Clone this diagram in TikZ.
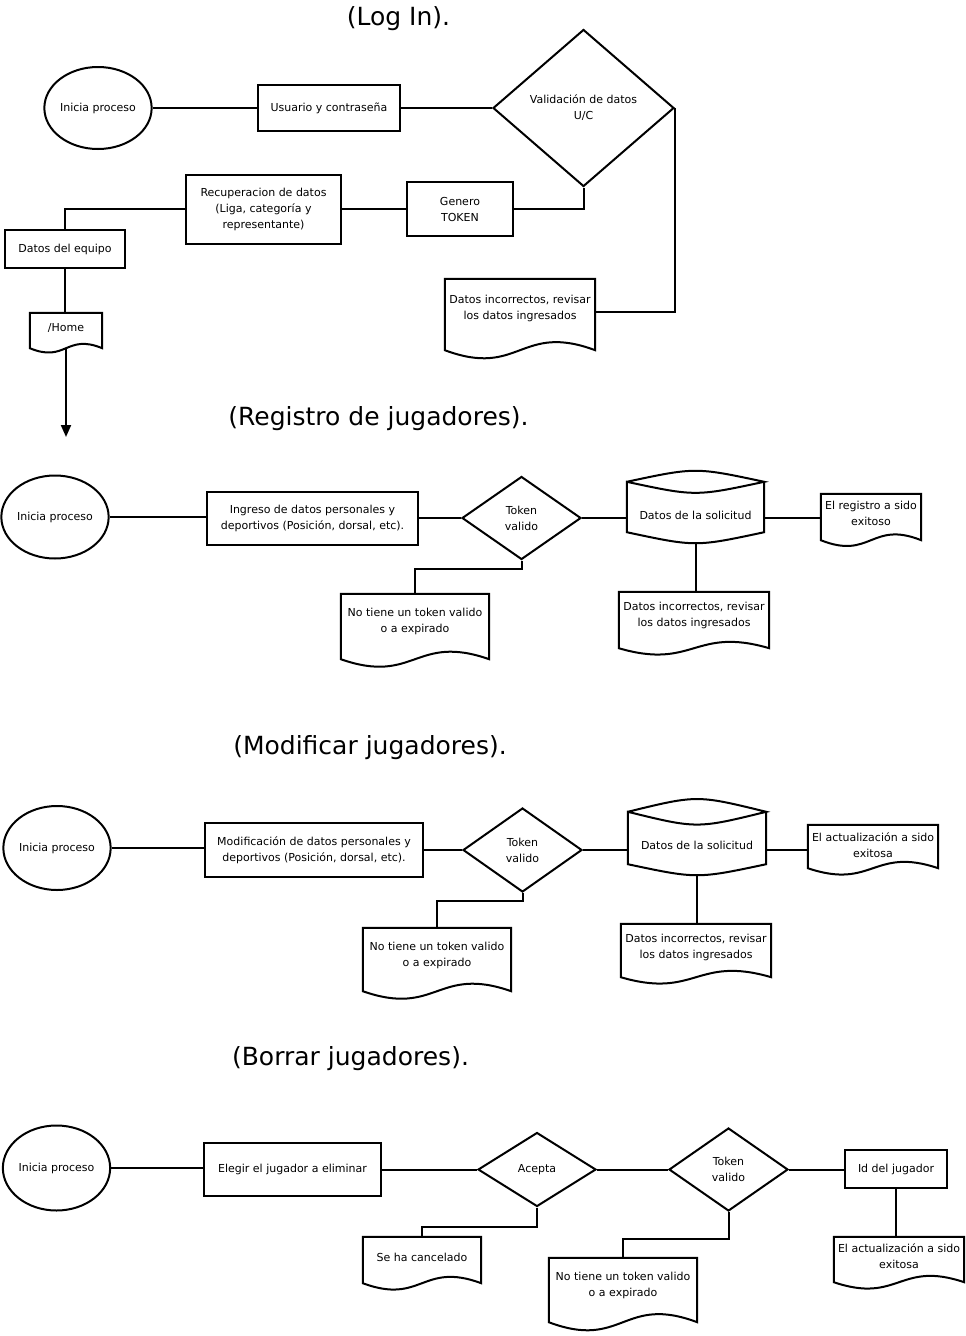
\documentclass[tikz,border=0pt]{standalone}
\usepackage{fontspec}
\setmainfont{DejaVu Sans}
\usetikzlibrary{shapes.geometric,calc,arrows.meta}
\tikzset{
  ln/.style={line width=2pt, line join=miter},
  every node/.style={font=\fontsize{11}{16}\selectfont, align=center, inner sep=0pt},
  ell/.style={ellipse, draw, ln},
  proc/.style={rectangle, draw, ln},
  dec/.style={diamond, draw, ln},
  docbox/.style={rectangle},
  cylbox/.style={rectangle},
  ttl/.style={font=\fontsize{25}{30}\selectfont}
}
% document outline: name, extra side length, wave control offset
\newcommand\docout[3]{%
  \draw[ln] (#1.north west) -- (#1.north east) -- ([yshift=-#2]#1.south east)
    .. controls ($(#1.south)+(0,#2)+(0,-#3)$) and ($(#1.south)+(0,#2)+(0,#3)$) .. ([yshift=-#2]#1.south west) -- cycle;}
% stored-data outline: name, bottom corners raised by, top arc control, bottom arc control
\newcommand\cylout[4]{%
  \draw[ln] (#1.north west) .. controls ($(#1.north)+(0,-#3)$) .. (#1.north east)
    .. controls ($(#1.north)+(0,#3)$) .. (#1.north west)
    -- ([yshift=#2]#1.south west) .. controls ($(#1.south)+(0,-#2)+(0,#4)$) .. ([yshift=#2]#1.south east)
    -- (#1.north east);
  \coordinate (#1b) at ($(#1.south)+(0,-#2)+(0,0.75*#4)$);}
\begin{document}
\begin{tikzpicture}[x=1pt,y=-1pt]
\useasboundingbox (0,0) rectangle (966,1336);

% ---------------- Log In ----------------
\node[ttl] (t1) at (398.5,19) {(Log In).};
\node[ell, minimum width=106, minimum height=82] (li) at (98,108) {Inicia proceso};
\node[proc, minimum width=142, minimum height=46] (ux) at (329,108) {Usuario y contraseña};
\node[dec, minimum width=181, minimum height=157] (val) at (583.5,108) {Validación de datos\\U/C};
\node[proc, minimum width=106, minimum height=54] (gen) at (460,209) {Genero\\TOKEN};
\node[proc, minimum width=155, minimum height=69] (rec) at (263.5,209) {Recuperacion de datos\\(Liga, categoría y\\representante)};
\node[proc, minimum width=120, minimum height=38] (deq) at (65,249) {Datos del equipo};
\node[docbox, minimum width=72, minimum height=30] (home) at (66,328) {/Home};
\docout{home}{5}{15}
\coordinate (hend) at (66,437);
\node[docbox, minimum width=150, minimum height=58] (ldoc) at (520,308) {Datos incorrectos, revisar\\los datos ingresados};
\docout{ldoc}{13}{28}

\draw[ln] (li.east) -- (ux.west);
\draw[ln] (ux.east) -- (val.west);
\draw[ln] (val.south) |- (gen.east);
\draw[ln] (gen.west) -- (rec.east);
\draw[ln] (rec.west) -| (deq.north);
\draw[ln] (deq.south) -- (deq.south |- home.north);
\draw[ln,-{Triangle[width=10pt,length=12pt]}] ([yshift=-5]home.south) -- (hend);
\draw[ln] (val.east) |- ([yshift=-4]ldoc.east);

% ---------------- Registro ----------------
\node[ttl] (t2) at (378.5,419) {(Registro de jugadores).};
\node[ell, minimum width=106, minimum height=83] (r0) at (55,517) {Inicia proceso};
\node[proc, minimum width=211, minimum height=53] (r1) at (312.5,518) {Ingreso de datos personales y\\deportivos (Posición, dorsal, etc).};
\node[dec, minimum width=119, minimum height=83] (r2) at (521.5,518) {Token\\valido};
\node[cylbox, minimum width=137, minimum height=66] (r3) at (695.5,515) {Datos de la solicitud};
\cylout{r3}{16}{14.7}{14.7}
\node[docbox, minimum width=100, minimum height=38] (r4) at (871,513) {El registro a sido\\exitoso};
\docout{r4}{8}{20}
\node[docbox, minimum width=150, minimum height=46] (r5) at (694,615) {Datos incorrectos, revisar\\los datos ingresados};
\docout{r5}{10}{22}
\node[docbox, minimum width=148, minimum height=54] (r6) at (415,621) {No tiene un token valido\\o a expirado};
\docout{r6}{11}{26}

\draw[ln] (r0.east) -- (r0.east -| r1.west);
\draw[ln] (r1.east) -- (r2.west);
\draw[ln] (r2.east) -- (r2.east -| r3.west);
\draw[ln] (r2.east -| r3.east) -- (r2.east -| r4.west);
\draw[ln] (r3b) -- (r3b |- r5.north);
\draw[ln] (r2.south) -- ++(0,8) -| (r6.north);

% ---------------- Modificar ----------------
\node[ttl] (t3) at (370,748) {(Modificar jugadores).};
\node[ell, minimum width=106, minimum height=84] (m0) at (57,848) {Inicia proceso};
\node[proc, minimum width=218, minimum height=54] (m1) at (314,850) {Modificación de datos personales y\\deportivos (Posición, dorsal, etc).};
\node[dec, minimum width=119, minimum height=84] (m2) at (522.5,850) {Token\\valido};
\node[cylbox, minimum width=138, minimum height=66] (m3) at (697,845) {Datos de la solicitud};
\cylout{m3}{14}{17}{14.7}
\node[docbox, minimum width=130, minimum height=40] (m4) at (873,845) {El actualización a sido\\exitosa};
\docout{m4}{3}{22}
\node[docbox, minimum width=150, minimum height=46] (m5) at (696,947) {Datos incorrectos, revisar\\los datos ingresados};
\docout{m5}{7}{22}
\node[docbox, minimum width=148, minimum height=54] (m6) at (437,955) {No tiene un token valido\\o a expirado};
\docout{m6}{9}{26}

\draw[ln] (m0.east) -- (m0.east -| m1.west);
\draw[ln] (m1.east) -- (m2.west);
\draw[ln] (m2.east) -- (m2.east -| m3.west);
\draw[ln] (m2.east -| m3.east) -- (m2.east -| m4.west);
\draw[ln] (m3b) -- (m3b |- m5.north);
\draw[ln] (m2.south) -- ++(0,8) -| (m6.north);

% ---------------- Borrar ----------------
\node[ttl] (t4) at (350.5,1059) {(Borrar jugadores).};
\node[ell, minimum width=107, minimum height=85] (b0) at (56.5,1168) {Inicia proceso};
\node[proc, minimum width=177, minimum height=53] (b1) at (292.5,1169.5) {Elegir el jugador a eliminar};
\node[dec, minimum width=118, minimum height=74] (b2) at (537,1169.5) {Acepta};
\node[dec, minimum width=119, minimum height=83] (b3) at (728.5,1169.5) {Token\\valido};
\node[proc, minimum width=102, minimum height=38] (b4) at (896,1169) {Id del jugador};
\node[docbox, minimum width=118, minimum height=40] (b5) at (422,1257) {Se ha cancelado};
\docout{b5}{6}{22}
\node[docbox, minimum width=148, minimum height=54] (b6) at (623,1285) {No tiene un token valido\\o a expirado};
\docout{b6}{10}{28}
\node[docbox, minimum width=130, minimum height=38] (b7) at (899,1256) {El actualización a sido\\exitosa};
\docout{b7}{7}{22}

\draw[ln] (b0.east) -- (b0.east -| b1.west);
\draw[ln] (b1.east) -- (b2.west);
\draw[ln] (b2.east) -- (b3.west);
\draw[ln] (b3.east) -- (b3.east -| b4.west);
\draw[ln] (b4.south) -- (b4.south |- b7.north);
\draw[ln] (b2.south) -- ++(0,19) -| (b5.north);
\draw[ln] (b3.south) -- ++(0,27) -| (b6.north);
\end{tikzpicture}
\end{document}
